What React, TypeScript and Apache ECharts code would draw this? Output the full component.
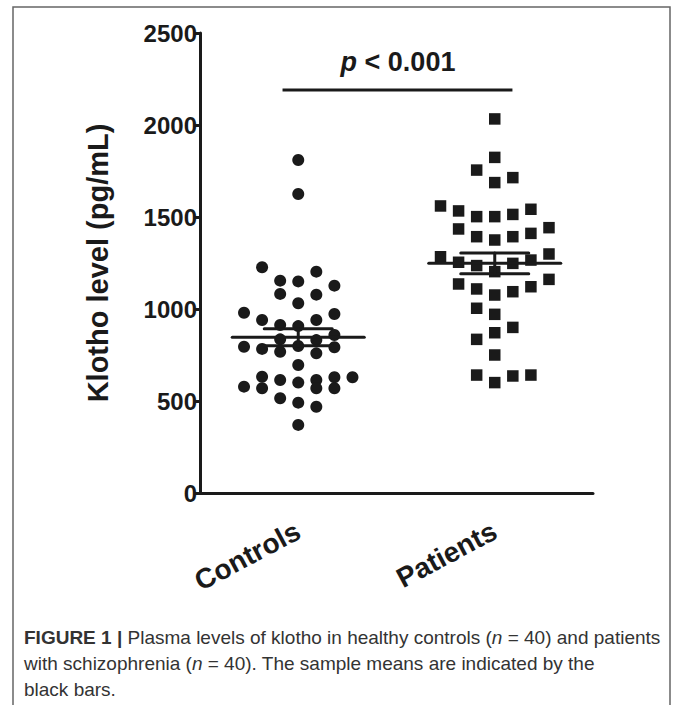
import React, { useEffect, useRef } from "react";
import * as echarts from "echarts";

// Categories
const groups = ["Controls", "Patients"];

// Controls (circles): values in pg/mL and beeswarm column index (-3..3)
const controlsValues = [
  1810, 1625, 1227, 1203, 1154, 1150, 1127, 1082, 1078, 1031,
  980, 973, 940, 940, 913, 907, 859, 835, 831, 795,
  783, 799, 792, 768, 759, 696, 632, 614, 614, 629,
  629, 578, 569, 600, 569, 569, 515, 491, 469, 370,
];
const controlsColumns = [
  0, 0, -2, 1, -1, 0, 2, -1, 1, 0,
  -3, 2, -2, 1, -1, 0, 2, -1, 1, -3,
  -2, 0, 2, -1, 1, 0, -2, -1, 1, 2,
  3, -3, -2, 0, 1, 2, -1, 0, 1, 0,
];

// Patients (squares)
const patientsValues = [
  2033, 1824, 1755, 1687, 1714, 1560, 1533, 1502, 1502, 1514,
  1542, 1435, 1442, 1393, 1375, 1393, 1411, 1284, 1299, 1254,
  1266, 1248, 1236, 1203, 1161, 1136, 1109, 1121, 1094, 1076,
  1004, 971, 900, 871, 835, 750, 641, 600, 636, 641,
];
const patientsColumns = [
  0, 0, -1, 0, 1, -3, -2, -1, 0, 1,
  2, -2, 3, -1, 0, 1, 2, -3, 3, -2,
  2, 1, -1, 0, 3, -2, -1, 2, 1, 0,
  -1, 0, 1, 0, -1, 0, -1, 0, 1, 2,
];

// Means and SEM
const means = [846, 1248];
const sems = [46, 57];

// Significance annotation
const sigLabel = "{i|p} < 0.001";
const sigLevel = 2190;
const sigStart = 0.92;
const sigEnd = 2.09;

// Axis
const yMin = 0;
const yMax = 2500;
const yInterval = 500;
const yTitle = "Klotho level (pg/mL)";

// Caption
const captionLines = [
  "{b|FIGURE 1 |} Plasma levels of klotho in healthy controls ({i|n} = 40) and patients",
  "with schizophrenia ({i|n} = 40). The sample means are indicated by the",
  "black bars.",
];

const FONT = "'Liberation Sans', Arial, Helvetica, sans-serif";
const INK = "#1a1a1a";
const COL_STEP = 0.092;
const MEAN_HALF = 0.336;
const SEM_HALF = 0.173;

export default function App() {
  const ref = useRef<HTMLDivElement>(null);

  useEffect(() => {
    if (!ref.current) return;
    const chart = echarts.init(ref.current, undefined, { renderer: "svg" });

    const controlsData = controlsValues.map((v, i) => [1 + controlsColumns[i] * COL_STEP, v]);
    const patientsData = patientsValues.map((v, i) => [2 + patientsColumns[i] * COL_STEP, v]);
    const meanData = means.map((m, i) => [i + 1, m, sems[i]]);

    const option: any = {
      animation: false,
      grid: { left: 200, right: 82, top: 33, bottom: 212, containLabel: false },
      xAxis: [
        {
          type: "category",
          data: groups,
          boundaryGap: true,
          axisLine: { lineStyle: { color: INK, width: 3 } },
          axisTick: { alignWithLabel: true, length: 7, lineStyle: { color: INK, width: 3 } },
          axisLabel: {
            rotate: 28,
            fontSize: 28,
            fontWeight: "bold",
            fontFamily: FONT,
            color: INK,
            margin: 36,
          },
          splitLine: { show: false },
        },
        {
          type: "value",
          min: 0.5,
          max: 2.5,
          show: false,
          splitLine: { show: false },
        },
      ],
      yAxis: {
        type: "value",
        min: yMin,
        max: yMax,
        interval: yInterval,
        name: yTitle,
        nameLocation: "middle",
        nameRotate: 90,
        nameGap: 88,
        nameTextStyle: { fontSize: 29, fontWeight: "bold", fontFamily: FONT, color: INK },
        axisLine: { show: true, lineStyle: { color: INK, width: 3 } },
        axisTick: { show: true, length: 6, lineStyle: { color: INK, width: 3 } },
        axisLabel: {
          fontSize: 24,
          fontWeight: "bold",
          fontFamily: FONT,
          color: INK,
          margin: 3,
          formatter: (v: number) => String(v),
        },
        splitLine: { show: false },
      },
      series: [
        {
          type: "scatter",
          xAxisIndex: 1,
          symbol: "circle",
          symbolSize: 12,
          itemStyle: { color: INK, opacity: 1 },
          data: controlsData,
          z: 3,
        },
        {
          type: "scatter",
          xAxisIndex: 1,
          symbol: "rect",
          symbolSize: 11.5,
          itemStyle: { color: INK, opacity: 1 },
          data: patientsData,
          z: 3,
        },
        {
          type: "custom",
          xAxisIndex: 1,
          z: 4,
          data: meanData,
          renderItem: (params: any, api: any) => {
            const x = api.value(0);
            const m = api.value(1);
            const s = api.value(2);
            const c = api.coord([x, m]);
            const up = api.coord([x, m + s]);
            const lo = api.coord([x, m - s]);
            const mh = api.size([MEAN_HALF, 0])[0];
            const sh = api.size([SEM_HALF, 0])[0];
            const st = { stroke: INK, lineWidth: 3, lineCap: "round" };
            return {
              type: "group",
              children: [
                { type: "line", shape: { x1: c[0] - mh, y1: c[1], x2: c[0] + mh, y2: c[1] }, style: st },
                { type: "line", shape: { x1: up[0] - sh, y1: up[1], x2: up[0] + sh, y2: up[1] }, style: st },
                { type: "line", shape: { x1: lo[0] - sh, y1: lo[1], x2: lo[0] + sh, y2: lo[1] }, style: st },
                { type: "line", shape: { x1: up[0], y1: up[1], x2: lo[0], y2: lo[1] }, style: st },
              ],
            };
          },
        },
        {
          type: "line",
          xAxisIndex: 1,
          symbol: "none",
          lineStyle: { color: INK, width: 3 },
          data: [
            [sigStart, sigLevel],
            [sigEnd, sigLevel],
          ],
          z: 2,
        },
      ],
      graphic: [
        {
          type: "polyline",
          shape: { points: [[13, 705], [13, 7], [670, 7], [670, 705]] },
          style: { stroke: "#666", lineWidth: 1.5, fill: "none" },
          silent: true,
        },
        {
          type: "text",
          x: 398,
          y: 62,
          style: {
            text: sigLabel,
            fontSize: 27,
            fontWeight: "bold",
            fontFamily: FONT,
            fill: INK,
            align: "center",
            verticalAlign: "middle",
            rich: {
              i: { fontSize: 27, fontWeight: "bold", fontStyle: "italic", fontFamily: FONT, fill: INK },
            },
          },
        },
        ...captionLines.map((t, k) => ({
          type: "text",
          x: 24,
          y: 637 + k * 26,
          style: {
            text: t,
            fontSize: 19,
            fontFamily: FONT,
            fill: "#333",
            align: "left",
            verticalAlign: "middle",
            rich: {
              b: { fontSize: 19, fontWeight: "bold", fontFamily: FONT, fill: "#333" },
              i: { fontSize: 19, fontStyle: "italic", fontFamily: FONT, fill: "#333" },
            },
          },
        })),
      ],
    };

    chart.setOption(option);
    return () => chart.dispose();
  }, []);

  return (
    <div
      ref={ref}
      style={{ position: "absolute", left: 0, top: 0, width: 675, height: 705, background: "#fff" }}
    />
  );
}
